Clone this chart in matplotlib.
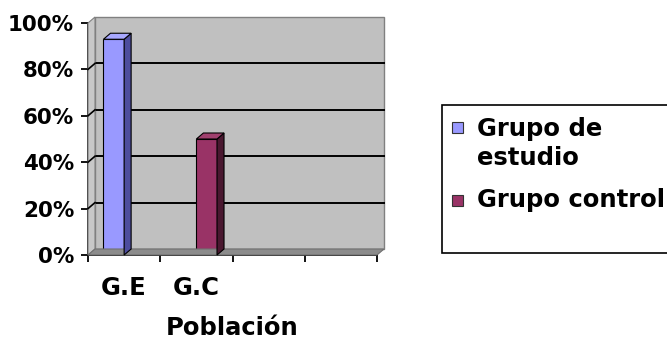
import numpy as np
import matplotlib.pyplot as plt
from matplotlib.patches import Polygon, Rectangle
from matplotlib.transforms import IdentityTransform, offset_copy

# Data
categories = ['G.E', 'G.C', '', '']
series_names = ['Grupo de\nestudio', 'Grupo control']
estudio = [93, 0, 0, 0]
control = [0, 50, 0, 0]
yticks = [0, 20, 40, 60, 80, 100]

front_colors = ['#9999ff', '#993366']
side_colors = ['#4d4d9e', '#4a1830']
top_colors = ['#a8a8ff', '#a0406e']

W, H = 667, 341
DX, DY = 7, 6          # depth of the 3d look, in pixels
fig = plt.figure(figsize=(W / 100, H / 100), dpi=100)
fig.patch.set_facecolor('white')

ax = fig.add_axes([88 / W, 86 / H, 289 / W, 232 / H])
ax.set_xlim(-0.5, len(categories) - 0.5)
ax.set_ylim(0, 100)
ax.patch.set_visible(False)
for s in ['top', 'right']:
    ax.spines[s].set_visible(False)
ax.spines['left'].set_linewidth(1.3)
ax.spines['bottom'].set_linewidth(1.3)
ax.spines['left'].set_zorder(6)
ax.spines['bottom'].set_zorder(6)

back = offset_copy(ax.transData, fig, x=DX, y=DY, units='dots')
x0, x1 = ax.get_xlim()

# back wall and gridlines
ax.add_patch(Rectangle((x0, 0), x1 - x0, 100, transform=back,
                       facecolor='#c0c0c0', edgecolor='#808080', lw=1.0,
                       clip_on=False, zorder=0))
for v in yticks[1:-1]:
    ax.plot([x0, x1], [v, v], color='black', lw=1.4, transform=back,
            clip_on=False, zorder=1)

# side wall and floor, built in display space from the two transforms
def disp(x, y, tr):
    return tr.transform((x, y))

side = [disp(x0, 0, ax.transData), disp(x0, 100, ax.transData),
        disp(x0, 100, back), disp(x0, 0, back)]
fig.add_artist(Polygon(side, closed=True, transform=IdentityTransform(),
                       facecolor='#c8c8c8', edgecolor='#808080', lw=0.8, zorder=0.5))
for v in yticks[1:-1]:
    a = disp(x0, v, ax.transData)
    b = disp(x0, v, back)
    fig.add_artist(plt.Line2D([a[0], b[0]], [a[1], b[1]], transform=IdentityTransform(),
                              color='black', lw=1.2, zorder=1))
floor = [disp(x0, 0, ax.transData), disp(x1, 0, ax.transData),
         disp(x1, 0, back), disp(x0, 0, back)]
fig.add_artist(Polygon(floor, closed=True, transform=IdentityTransform(),
                       facecolor='#8c8c8c', edgecolor='#707070', lw=0.8, zorder=1.5))

# bars, excel-style clustered with gap width 150
n = 2
w = 1 / (n + 1.5)
xs = np.arange(len(categories))
for k, vals in enumerate([estudio, control]):
    pos = xs - w + k * w + w / 2
    for xc, v in zip(pos, vals):
        if v <= 0:
            continue
        l, r = xc - w / 2, xc + w / 2
        sd = [disp(r, 0, ax.transData), disp(r, v, ax.transData),
              disp(r, v, back), disp(r, 0, back)]
        tp = [disp(l, v, ax.transData), disp(r, v, ax.transData),
              disp(r, v, back), disp(l, v, back)]
        fig.add_artist(Polygon(sd, closed=True, transform=IdentityTransform(),
                               facecolor=side_colors[k], edgecolor='black', lw=0.8, zorder=3))
        fig.add_artist(Polygon(tp, closed=True, transform=IdentityTransform(),
                               facecolor=top_colors[k], edgecolor='black', lw=0.8, zorder=3))
    ax.bar(pos, vals, width=w, color=front_colors[k], edgecolor='black',
           linewidth=0.8, zorder=4)

# axes ticks
ax.set_yticks(yticks)
ax.set_yticklabels([f'{v}%' for v in yticks], fontsize=15.4, fontweight='bold')
ax.tick_params(axis='y', length=5, width=1.3, pad=5)
ax.set_xticks(xs)
ax.set_xticklabels(categories, fontsize=17.5, fontweight='bold')
ax.tick_params(axis='x', which='major', length=0, pad=15)
ax.set_xticks(np.arange(len(categories) + 1) - 0.5, minor=True)
ax.tick_params(axis='x', which='minor', length=5, width=1.3, direction='out')

fig.text(232.5 / W, 1 - 328 / H, 'Población', ha='center', va='center',
         fontsize=17.5, fontweight='bold')

# legend
fig.add_artist(Rectangle((442 / W, 1 - 253 / H), 260 / W, 148 / H,
                         transform=fig.transFigure, facecolor='white',
                         edgecolor='black', lw=1.2, clip_on=False))
leg_y = [127, 200]
text_y = [143.5, 200]
for k, name in enumerate(series_names):
    fig.add_artist(Rectangle((452 / W, 1 - (leg_y[k] + 5.5) / H), 11 / W, 11 / H,
                             transform=fig.transFigure, facecolor=front_colors[k],
                             edgecolor='#333333', lw=0.8))
    fig.text(477 / W, 1 - text_y[k] / H, name, ha='left', va='center',
             fontsize=17.5, fontweight='bold', linespacing=1.3)

fig.savefig('out.png', dpi=100)
